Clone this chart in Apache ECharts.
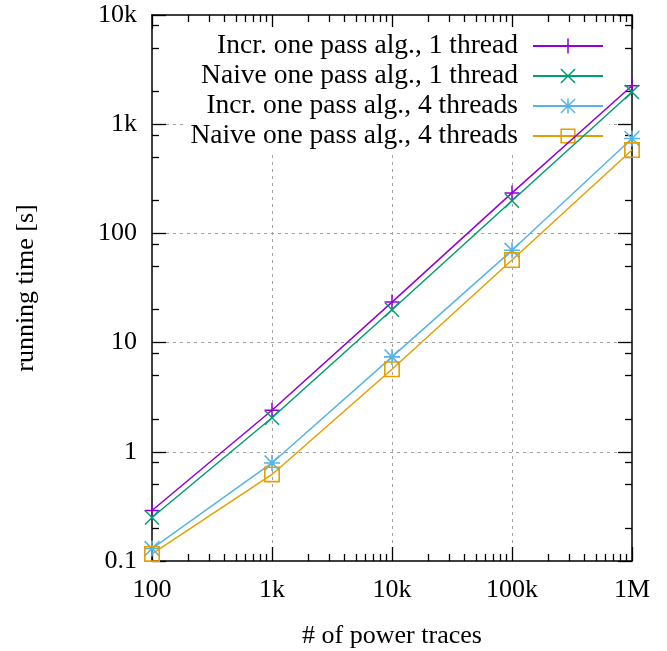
<!DOCTYPE html>
<html><head><meta charset="utf-8">
<script src="https://cdn.jsdelivr.net/npm/echarts@6/dist/echarts.min.js"></script>
<style>html,body{margin:0;padding:0;background:#fff}#c{width:667px;height:651px}</style>
</head><body><div id="c"></div>
<script>
// ---- data ----
const xValues = [100, 1000, 10000, 100000, 1000000];
const xTickLabels = ['100', '1k', '10k', '100k', '1M'];
const yTickValues = [0.1, 1, 10, 100, 1000, 10000];
const yTickLabels = ['0.1', '1', '10', '100', '1k', '10k'];
const seriesNames = [
  'Incr. one pass alg., 1 thread',
  'Naive one pass alg., 1 thread',
  'Incr. one pass alg., 4 threads',
  'Naive one pass alg., 4 threads'
];
const incr1 = [0.29, 2.4, 23.5, 235, 2250];
const naive1 = [0.25, 2.05, 20, 199, 1970];
const incr4 = [0.13, 0.79, 7.4, 70, 740];
const naive4 = [0.116, 0.62, 5.7, 57, 580];
const xMinorMultipliers = [2, 3, 4, 5, 6, 7, 8, 9];
const yMinorMultipliers = [2, 5, 8];

// ---- styling ----
const FONT = 'Liberation Serif';
const colors = ['#9400d3', '#009e73', '#56b4e9', '#e69f00'];
const symbols = [
  'path://M9,0H11V9H20V11H11V20H9V11H0V9H9Z',
  'path://M0,1.4L1.4,0L20,18.6L18.6,20ZM18.6,0L20,1.4L1.4,20L0,18.6Z',
  'path://M9,0H11V9H20V11H11V20H9V11H0V9H9ZM0,1.4L1.4,0L20,18.6L18.6,20ZM18.6,0L20,1.4L1.4,20L0,18.6Z',
  'path://M0,0H20V20H0ZM2,2V18H18V2Z'
];
const symbolSizes = [15, 15, 16, 16];

function minors(decades, mults) {
  const out = [];
  for (let i = 0; i < decades.length - 1; i++) {
    for (const m of mults) out.push(decades[i] * m);
  }
  return out;
}
const xMinor = minors(xValues, xMinorMultipliers);
const yMinor = minors(yTickValues, yMinorMultipliers);

function lab(vals, labels) {
  return function (v) {
    for (let i = 0; i < vals.length; i++) {
      if (Math.abs(Math.log10(vals[i]) - Math.log10(v)) < 1e-6) return labels[i];
    }
    return '';
  };
}

const tickLine = { color: '#000', width: 1.3 };
const axisLine = { show: true, lineStyle: { color: '#000', width: 1.5 } };
const split = { show: true, showMinLine: false, showMaxLine: false, lineStyle: { color: '#a0a0a0', width: 1, type: [3, 4] } };
const noSplit = { show: false };

function mkX(pos, major, withLabel, withSplit, withLine) {
  const ax = {
    type: 'log', logBase: 10, min: 100, max: 1000000, position: pos,
    axisLine: withLine ? axisLine : { show: false },
    axisTick: { show: true, inside: true, length: major ? 14 : 7, lineStyle: tickLine, customValues: major ? xValues : xMinor },
    axisLabel: withLabel ? { show: true, customValues: xValues, formatter: lab(xValues, xTickLabels), fontFamily: FONT, fontSize: 26, color: '#000', margin: 16 } : { show: false },
    splitLine: withSplit ? split : noSplit
  };
  if (withLabel) {
    ax.name = '# of power traces';
    ax.nameLocation = 'middle';
    ax.nameGap = 62;
    ax.nameTextStyle = { fontFamily: FONT, fontSize: 26, color: '#000' };
  }
  return ax;
}
function mkY(pos, major, withLabel, withSplit, withLine) {
  const ax = {
    type: 'log', logBase: 10, min: 0.1, max: 10000, position: pos,
    axisLine: withLine ? axisLine : { show: false },
    axisTick: { show: true, inside: true, length: major ? 14 : 7, lineStyle: tickLine, customValues: major ? yTickValues : yMinor },
    axisLabel: withLabel ? { show: true, customValues: yTickValues, formatter: lab(yTickValues, yTickLabels), fontFamily: FONT, fontSize: 26, color: '#000', margin: 15 } : { show: false },
    splitLine: withSplit ? split : noSplit
  };
  if (withLabel) {
    ax.name = 'running time [s]';
    ax.nameLocation = 'middle';
    ax.nameGap = 113;
    ax.nameTextStyle = { fontFamily: FONT, fontSize: 26, color: '#000' };
  }
  return ax;
}

const dataSets = [incr1, naive1, incr4, naive4];
const series = dataSets.map(function (vals, i) {
  return {
    name: seriesNames[i],
    type: 'line',
    xAxisIndex: 0, yAxisIndex: 0,
    data: xValues.map(function (x, j) { return [x, vals[j]]; }),
    symbol: symbols[i],
    symbolSize: symbolSizes[i],
    showSymbol: true,
    z: 3,
    lineStyle: { color: colors[i], width: 1.5 },
    itemStyle: { color: colors[i] },
    emphasis: { disabled: true },
    animation: false
  };
});

const chart = echarts.init(document.getElementById('c'), null, { renderer: 'canvas' });
chart.setOption({
  backgroundColor: '#fff',
  animation: false,
  grid: { left: 152, right: 35, top: 15, bottom: 90, containLabel: false, outerBoundsMode: 'none' },
  xAxis: [
    mkX('bottom', true, true, true, true),
    mkX('bottom', false, false, false, false),
    mkX('top', true, false, false, true),
    mkX('top', false, false, false, false)
  ],
  yAxis: [
    mkY('left', true, true, true, true),
    mkY('left', false, false, false, false),
    mkY('right', true, false, false, true),
    mkY('right', false, false, false, false)
  ],
  legend: {
    orient: 'vertical', right: 58, top: 27, align: 'right',
    itemWidth: 70, itemHeight: 19, itemGap: 2,
    padding: [5, 5, 5, 5], backgroundColor: '#fff', z: 1,
    textStyle: { fontFamily: FONT, fontSize: 27.5, color: '#000', lineHeight: 25, padding: [0, 10, 0, 0] },
    data: seriesNames
  },
  series: series
});
</script>
</body></html>
